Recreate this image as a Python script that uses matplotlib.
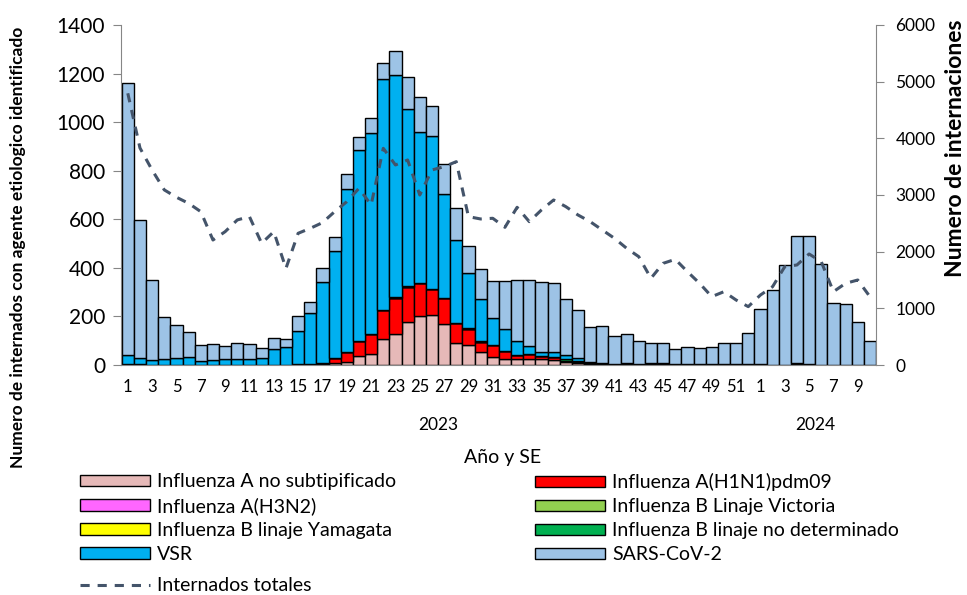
"""Internados con agente etiologico identificado por SE, 2023-2024."""
import matplotlib

matplotlib.use("Agg")
import matplotlib.pyplot as plt
import numpy as np
from matplotlib.lines import Line2D
from matplotlib.patches import Patch

plt.rcParams["font.family"] = ["Lato", "DejaVu Sans"]

# semanas epidemiologicas: 1-52 de 2023 y 1-10 de 2024
weeks = list(range(1, 53)) + list(range(1, 11))

flu_a_ns = [1, 1, 0, 0, 0, 0, 0, 0, 0, 0, 0, 0, 0, 1, 1, 2,
            4, 8, 14, 37, 45, 107, 129, 177, 202, 206, 167, 92, 82, 55, 32, 26, 26, 23, 23, 21,
            12, 10, 5, 3, 2, 4, 2, 1, 1, 0, 0, 0, 0, 0, 0, 0,
            0, 0, 0, 0, 0, 0, 0, 0, 0, 0]
flu_h1n1 = [0, 0, 0, 0, 0, 0, 0, 0, 0, 0, 0, 0, 0, 0, 1, 1,
            4, 19, 38, 62, 84, 119, 147, 146, 134, 108, 108, 82, 68, 41, 50, 30, 15, 22, 14, 11,
            3, 2, 1, 1, 0, 0, 0, 0, 0, 0, 0, 0, 0, 0, 0, 0,
            0, 0, 0, 0, 0, 0, 0, 0, 0, 0]
flu_h3n2 = [0] * 52 + [0, 0, 0, 4, 1, 0, 0, 0, 0, 0]
flu_b_victoria = [0] * 62
flu_b_yamagata = [0] * 62
flu_b_nd = [5, 3, 2, 2, 1, 1, 1, 1, 1, 1, 1, 1, 2, 1, 2, 1,
            1, 0, 0, 0, 0, 0, 5, 2, 1, 1, 1, 1, 1, 1, 1, 1, 2, 2, 2, 2,
            8, 5, 2, 2, 2, 2, 1, 3, 3, 2, 1, 1, 1, 1, 1, 1,
            1, 1, 1, 1, 1, 1, 1, 1, 1, 0]
vsr = [35, 23, 18, 23, 29, 32, 15, 19, 22, 22, 24, 26, 64, 71, 136, 209,
       334, 442, 671, 786, 825, 950, 913, 728, 621, 628, 428, 340, 227, 173, 109, 90, 56, 31, 15, 18,
       17, 12, 3, 2, 2, 2, 2, 3, 3, 2, 2, 2, 2, 3, 3, 2,
       5, 1, 1, 2, 1, 1, 1, 1, 1, 1]
sars = [1121, 570, 329, 174, 133, 103, 66, 66, 57, 69, 61, 43, 47, 35, 60, 48,
        55, 57, 65, 55, 62, 66, 100, 133, 147, 125, 124, 130, 111, 125, 155, 198, 250, 271, 289, 287,
        233, 199, 144, 151, 115, 121, 94, 82, 82, 60, 70, 69, 70, 85, 85, 129,
        226, 307, 410, 526, 530, 414, 253, 248, 174, 96]
internados = [4795, 3830, 3440, 3090, 2960, 2853, 2706, 2206, 2353, 2560, 2618, 2148, 2353,
              1706, 2324, 2412, 2512, 2706, 2882, 3118, 2824, 3824, 3530, 3618, 3000, 3442,
              3500, 3588, 2618, 2577, 2589, 2430, 2783, 2530, 2736, 2912, 2795, 2648, 2530,
              2383, 2236, 2060, 1912, 1530, 1794, 1865, 1647, 1441, 1206, 1294, 1147, 1030,
              1235, 1382, 1735, 1765, 1959, 1824, 1294, 1441, 1500, 1206]

series = [
    ("Influenza A no subtipificado", flu_a_ns, "#E6B9B8"),
    ("Influenza A(H1N1)pdm09", flu_h1n1, "#FF0000"),
    ("Influenza A(H3N2)", flu_h3n2, "#FF66FF"),
    ("Influenza B Linaje Victoria", flu_b_victoria, "#92D050"),
    ("Influenza B linaje Yamagata", flu_b_yamagata, "#FFFF00"),
    ("Influenza B linaje no determinado", flu_b_nd, "#00B050"),
    ("VSR", vsr, "#00B0F0"),
    ("SARS-CoV-2", sars, "#9DC3E6"),
]
line_color = "#44546A"
spine_gray = "#868686"

W, H = 967, 595
fig = plt.figure(figsize=(W / 100, H / 100), dpi=100)
ax = fig.add_axes([120.5 / W, 230 / H, 755.5 / W, 340 / H])
x = np.arange(len(weeks))

bottom = np.zeros(len(weeks))
for name, vals, color in series:
    vals = np.array(vals, dtype=float)
    ax.bar(x, vals, width=1.0, bottom=bottom, color=color,
           edgecolor="black", linewidth=1.0)
    bottom += vals

ax.set_xlim(-0.6, 61.5)
ax.set_ylim(0, 1400)
ax.set_yticks(range(0, 1401, 200))
ax.set_xticks(x[::2])
ax.set_xticklabels([str(w) for w in weeks[::2]], fontsize=12)
ax.tick_params(axis="x", length=0, pad=10)
ax.tick_params(axis="y", length=6, color=spine_gray, labelsize=15, pad=5)
for side in ("top", "right"):
    ax.spines[side].set_visible(False)
for side in ("left", "bottom"):
    ax.spines[side].set_color(spine_gray)

ax2 = ax.twinx()
ax2.plot(x, internados, color=line_color, linewidth=2.2, dashes=(3, 2.6))
ax2.set_ylim(0, 6000)
ax2.set_yticks(range(0, 6001, 1000))
ax2.tick_params(axis="y", length=6, color=spine_gray, labelsize=12.5, pad=8)
for side in ("top", "left", "bottom"):
    ax2.spines[side].set_visible(False)
ax2.spines["right"].set_color(spine_gray)

# titulos de ejes
fig.text(18 / W, 1 - 247 / H, "Numero de internados con agente etiologico identificado",
         rotation=90, ha="center", va="center", fontsize=12.5, fontweight="bold")
fig.text(955 / W, 1 - 148 / H, "Numero de internaciones",
         rotation=90, ha="center", va="center", fontsize=16.5, fontweight="bold")

trans = ax.get_xaxis_transform()
ax.text(25.5, -60 / 340, "2023", transform=trans, ha="center", va="center", fontsize=12.5)
ax.text(56.5, -60 / 340, "2024", transform=trans, ha="center", va="center", fontsize=12.5)
ax.text(30.8, -93 / 340, "Año y SE", transform=trans, ha="center", va="center", fontsize=14)

handles = [Patch(facecolor=c, edgecolor="black", linewidth=1.0, label=n) for n, _, c in series]
leg_kw = dict(frameon=False, fontsize=14, handlelength=3.6, handleheight=0.5,
              handletextpad=0.36, labelspacing=0.36, borderpad=0, borderaxespad=0,
              loc="upper left")
fig.legend(handles=handles[0::2], bbox_to_anchor=(80 / W, 1 - 473 / H), **leg_kw)
fig.legend(handles=handles[1::2], bbox_to_anchor=(535 / W, 1 - 473 / H), **leg_kw)
fig.legend(handles=[Line2D([], [], color=line_color, linewidth=2.2, dashes=(3, 2.6),
                           label="Internados totales")],
           bbox_to_anchor=(80 / W, 1 - 577 / H), **leg_kw)

fig.savefig("out.png", dpi=100)
